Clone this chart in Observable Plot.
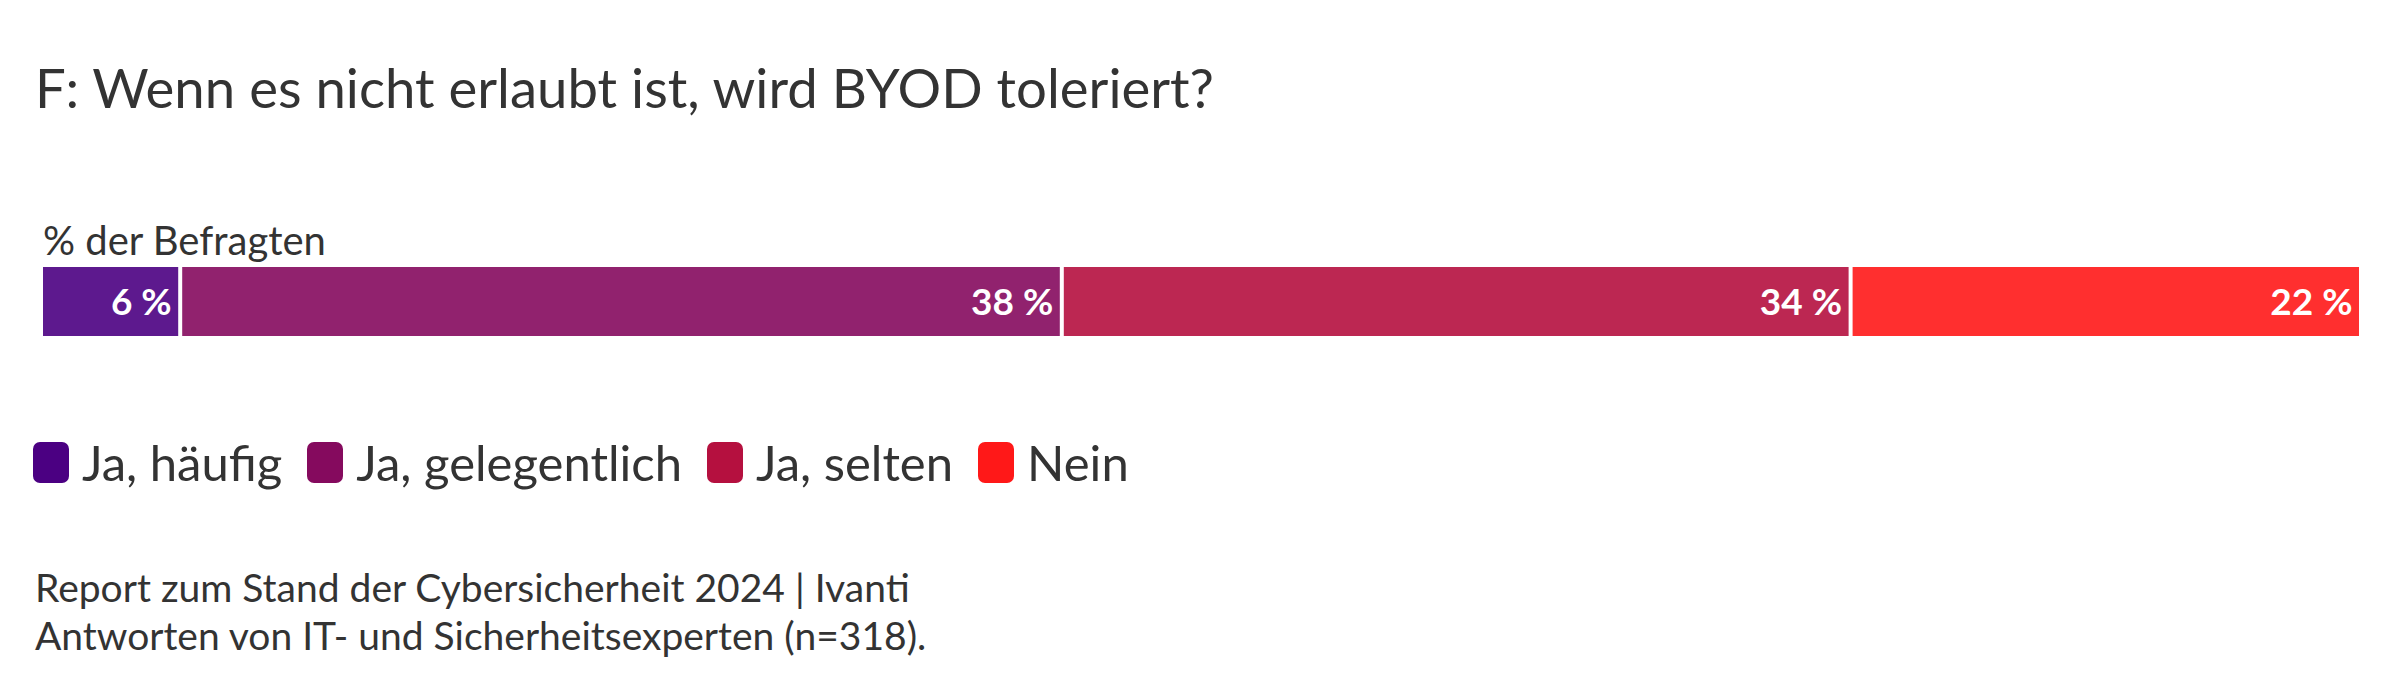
<!DOCTYPE html>
<html>
<head>
<meta charset="utf-8">
<script src="https://cdn.jsdelivr.net/npm/d3@7"></script>
<script src="https://cdn.jsdelivr.net/npm/@observablehq/plot@0.6"></script>
<style>
  html, body { margin: 0; padding: 0; background: #fff; }
  body { width: 2400px; height: 699px; position: relative; overflow: hidden; font-family: Lato, "Noto Sans", sans-serif; color: #333; }
  .abs { position: absolute; white-space: nowrap; }
  #title { left: 35px; top: 60px; font-size: 54.5px; line-height: 54.5px; }
  #subtitle { left: 43px; top: 220px; font-size: 40px; line-height: 40px; }
  #chart { left: 0; top: 257px; }
  #legend { left: 33px; top: 438px; display: flex; align-items: center; font-size: 49px; line-height: 49px; }
  .item { display: flex; align-items: center; margin-right: 25px; }
  .sw { width: 36px; height: 41px; border-radius: 7px; margin-right: 13px; }
  #footer { left: 35px; top: 563px; font-size: 39px; line-height: 48px; }
</style>
</head>
<body>
<div id="title" class="abs">F: Wenn es nicht erlaubt ist, wird BYOD toleriert?</div>
<div id="subtitle" class="abs">% der Befragten</div>
<div id="chart" class="abs"></div>
<div id="legend" class="abs"></div>
<div id="footer" class="abs">Report zum Stand der Cybersicherheit 2024 | Ivanti<br>Antworten von IT- und Sicherheitsexperten (n=318).</div>
<script>
const categories = ["Ja, häufig", "Ja, gelegentlich", "Ja, selten", "Nein"];
const values = [6, 38, 34, 22];
const colors = ["#4b0082", "#850a5e", "#b5103f", "#ff1818"];

const data = categories.map((c, i) => ({category: c, value: values[i], order: i}));

const chart = Plot.plot({
  width: 2400,
  height: 90,
  marginTop: 10,
  marginBottom: 11,
  marginLeft: 41,
  marginRight: 39,
  x: {domain: [0, 100], axis: null},
  color: {domain: categories, range: colors},
  style: {fontFamily: "Lato, 'Noto Sans', sans-serif", background: "transparent"},
  marks: [
    Plot.barX(data, Plot.stackX({
      x: "value", fill: "category", order: "order",
      fillOpacity: 0.9, insetLeft: 2, insetRight: 2
    })),
    Plot.text(data, Plot.stackX2({
      x: "value", text: d => `${d.value} %`, order: "order",
      textAnchor: "end", dx: -9, dy: 1, fill: "white", fontWeight: "bold", fontSize: 37
    }))
  ]
});
document.getElementById("chart").appendChild(chart);

const legend = document.getElementById("legend");
categories.forEach((c, i) => {
  const item = document.createElement("div");
  item.className = "item";
  const sw = document.createElement("div");
  sw.className = "sw";
  sw.style.background = colors[i];
  const lab = document.createElement("span");
  lab.textContent = c;
  item.appendChild(sw);
  item.appendChild(lab);
  legend.appendChild(item);
});
</script>
</body>
</html>
